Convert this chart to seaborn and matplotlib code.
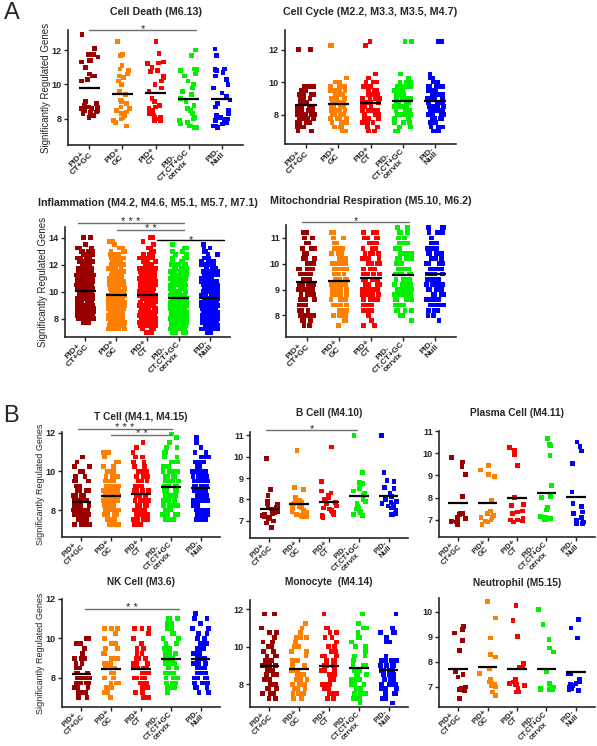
import numpy as np
import pandas as pd
import matplotlib
matplotlib.use("Agg")
import matplotlib.pyplot as plt
import seaborn as sns

# groups, labels, colours
groups = ["PID+ CT+GC", "PID+ GC", "PID+ CT", "PID- CT,CT+GC cervix", "PID- Null"]
tick_labels = ["PID+\nCT+GC", "PID+\nGC", "PID+\nCT", "PID-\nCT,CT+GC\ncervix", "PID-\nNull"]
colors = ["#9a0000", "#ff7f00", "#ff0000", "#00f000", "#0000ff"]

# ---- Panel A: Cell Death (single values)
cd_vals = [
    [12.9, 12.1, 11.75, 11.75, 11.6, 11.4, 11.4, 11.3, 11.0, 10.6, 10.5, 10.5, 10.3, 10.2, 9.0,
     8.9, 8.8, 8.7, 8.7, 8.6, 8.6, 8.5, 8.5, 8.4, 8.4, 8.3, 8.3, 8.2, 8.2, 8.1],
    [12.5, 11.75, 11.7, 11.1, 10.9, 10.8, 10.6, 10.5, 10.4, 10.2, 10.0, 9.6, 9.4, 9.1, 9.0,
     8.9, 8.7, 8.6, 8.5, 8.4, 8.3, 8.3, 8.2, 8.1, 8.0, 7.9, 7.8, 7.6],
    [12.5, 11.8, 11.3, 11.25, 11.2, 11.0, 10.8, 10.75, 10.5, 10.4, 10.2, 10.0, 9.8, 9.6, 9.2,
     9.0, 8.8, 8.7, 8.6, 8.5, 8.4, 8.3, 8.3, 8.2, 8.1, 8.1, 8.0, 8.0, 7.9, 7.9],
    [12.0, 11.7, 10.9, 10.85, 10.8, 10.6, 10.5, 10.2, 10.0, 9.8, 9.6, 9.4, 9.2, 9.0, 8.8,
     8.6, 8.5, 8.3, 8.1, 8.0, 7.9, 7.8, 7.8, 7.7, 7.6, 7.6, 7.5, 7.5],
    [12.05, 11.7, 10.9, 10.85, 10.8, 10.7, 10.5, 10.3, 10.0, 9.8, 9.5, 9.3, 9.1, 8.9, 8.7,
     8.5, 8.3, 8.2, 8.1, 8.0, 8.0, 7.9, 7.8, 7.8, 7.7, 7.6, 7.6, 7.5],
]

# ---- Panel A: Cell Cycle (points per value row)
cc_levels = [7.0, 7.25, 7.5, 7.75, 8.0, 8.25, 8.5, 8.75, 9.0, 9.25, 9.5, 9.75, 10.0, 10.25,
             10.5, 10.75, 11.0, 11.25, 11.5, 11.75, 12.0, 12.25, 12.5]
cc_counts = [
    [2, 3, 4, 5, 6, 6, 6, 6, 5, 5, 4, 4, 0, 0, 0, 0, 0, 0, 0, 0, 2, 0, 0],
    [2, 3, 4, 5, 5, 6, 6, 6, 6, 5, 4, 4, 2, 1, 0, 0, 0, 0, 0, 0, 0, 2, 0],
    [3, 3, 4, 4, 5, 5, 6, 6, 6, 5, 5, 4, 3, 1, 1, 0, 0, 0, 0, 0, 0, 1, 1],
    [2, 2, 3, 4, 5, 5, 6, 6, 6, 6, 6, 6, 3, 1, 1, 0, 0, 0, 0, 0, 0, 0, 2],
    [3, 3, 3, 4, 5, 5, 6, 6, 6, 6, 6, 5, 3, 2, 1, 0, 0, 0, 0, 0, 0, 0, 2],
]

# ---- Panel A: Inflammation
inf_levels = [7.0, 7.25, 7.5, 7.75, 8.0, 8.25, 8.5, 8.75, 9.0, 9.25, 9.5, 9.75, 10.0, 10.25,
              10.5, 10.75, 11.0, 11.25, 11.5, 11.75, 12.0, 12.25, 12.5, 12.75, 13.0, 13.25,
              13.5, 13.75, 14.0]
inf_counts = [
    [0, 0, 0, 6, 14, 16, 16, 16, 14, 14, 14, 14, 14, 14, 13, 12, 12, 11, 9, 8, 7, 6, 5, 5, 4, 3, 2, 0, 2],
    [0, 8, 12, 14, 14, 14, 14, 14, 14, 13, 13, 13, 13, 12, 12, 11, 11, 10, 9, 8, 7, 6, 5, 4, 3, 2, 1, 2, 0],
    [2, 7, 12, 14, 14, 14, 14, 14, 14, 13, 13, 13, 13, 12, 12, 11, 11, 10, 9, 8, 7, 6, 5, 4, 3, 2, 1, 1, 2],
    [6, 12, 14, 14, 14, 14, 14, 14, 14, 13, 13, 13, 12, 12, 11, 10, 10, 9, 8, 7, 6, 5, 4, 3, 2, 2, 1, 0, 0],
    [4, 13, 14, 14, 14, 14, 14, 14, 14, 13, 13, 13, 12, 12, 11, 10, 10, 9, 8, 7, 6, 5, 4, 3, 2, 2, 1, 0, 0],
]

# ---- Panel A: Mitochondrial Respiration
mito_levels = [7.4, 7.6, 7.8, 8.0, 8.2, 8.4, 8.6, 8.8, 9.0, 9.2, 9.4, 9.6, 9.8, 10.0, 10.2,
               10.4, 10.6, 10.8, 11.0, 11.2, 11.4]
mito_counts = [
    [0, 2, 3, 4, 5, 6, 6, 7, 7, 7, 7, 6, 6, 5, 5, 4, 3, 2, 2, 2, 0],
    [0, 1, 2, 4, 5, 6, 6, 7, 7, 7, 7, 6, 6, 6, 5, 4, 4, 3, 2, 2, 0],
    [0, 2, 2, 2, 4, 6, 6, 7, 7, 7, 7, 7, 6, 6, 5, 5, 5, 4, 4, 3, 0],
    [0, 0, 1, 3, 4, 5, 6, 6, 6, 7, 7, 7, 7, 6, 6, 6, 5, 4, 3, 3, 2],
    [0, 0, 1, 2, 4, 5, 6, 6, 6, 7, 7, 7, 7, 6, 6, 6, 5, 4, 2, 3, 3],
]

# ---- Panel B: T Cell
tc_levels = [7.0, 7.25, 7.5, 7.75, 8.0, 8.25, 8.5, 8.75, 9.0, 9.25, 9.5, 9.75, 10.0, 10.25,
             10.5, 10.75, 11.0, 11.25, 11.5, 11.75, 12.0]
tc_counts = [
    [0, 6, 8, 9, 9, 8, 7, 6, 5, 3, 3, 2, 2, 2, 1, 1, 0, 0, 0, 0, 0],
    [0, 4, 6, 7, 7, 7, 7, 6, 6, 5, 5, 4, 3, 3, 2, 1, 2, 0, 0, 0, 0],
    [0, 4, 6, 7, 7, 7, 6, 6, 6, 5, 5, 4, 4, 3, 2, 2, 1, 1, 1, 0, 0],
    [0, 0, 4, 6, 7, 6, 6, 6, 6, 6, 6, 5, 5, 4, 3, 2, 2, 2, 1, 1, 1],
    [0, 0, 3, 6, 7, 6, 6, 6, 6, 6, 6, 5, 5, 4, 3, 3, 2, 1, 1, 1, 0],
]

# ---- Panel B: B Cell
bc_vals = [
    [9.9, 8.45, 8.2, 7.9, 7.8, 7.75, 7.7, 7.65, 7.6, 7.55, 7.5, 7.45, 7.4, 7.35, 7.3, 7.3,
     7.25, 7.2, 7.15, 7.1, 7.0, 6.9, 6.7],
    [10.3, 8.55, 8.45, 8.1, 7.95, 7.9, 7.85, 7.8, 7.75, 7.7, 7.65, 7.6, 7.55, 7.5, 7.45, 7.4,
     7.35, 7.3, 7.3, 7.25, 7.2, 7.2],
    [10.45, 8.85, 8.4, 8.3, 8.2, 8.1, 8.0, 7.9, 7.85, 7.8, 7.7, 7.6, 7.55, 7.5, 7.45, 7.4,
     7.35, 7.3, 7.25, 7.2, 7.15],
    [11.0, 9.25, 8.8, 8.75, 8.7, 8.5, 8.4, 8.3, 8.2, 8.0, 7.9, 7.8, 7.7, 7.6, 7.55, 7.5,
     7.45, 7.4, 7.3, 7.25],
    [11.0, 9.25, 8.9, 8.85, 8.55, 8.5, 8.3, 8.15, 8.0, 7.9, 7.85, 7.8, 7.75, 7.7, 7.65, 7.6,
     7.5, 7.35, 7.3, 7.3],
]

# ---- Panel B: Plasma Cell
pc_vals = [
    [9.8, 9.6, 9.4, 9.05, 8.05, 7.3, 7.3, 7.25, 7.1, 7.05, 7.0, 6.95, 6.9, 6.9, 6.8],
    [9.45, 9.25, 9.05, 8.95, 7.9, 7.4, 7.3, 7.2, 7.1, 7.1, 7.0, 6.95, 6.9, 6.8],
    [10.25, 10.15, 9.95, 9.45, 8.0, 7.7, 7.65, 7.4, 7.35, 7.3, 7.05, 7.0, 7.0, 6.95, 6.9],
    [10.65, 10.4, 10.35, 9.9, 8.55, 8.05, 8.0, 7.55, 7.45, 7.15, 7.1, 7.05, 7.0, 7.0, 7.05],
    [10.5, 10.3, 10.1, 9.55, 8.25, 7.75, 7.6, 7.35, 7.3, 7.1, 7.0, 6.9, 6.85, 6.85, 6.85],
]

# ---- Panel B: NK Cell
nk_levels = [6.75, 7.0, 7.25, 7.5, 7.75, 8.0, 8.25, 8.5, 8.75, 9.0, 9.25, 9.5, 9.75, 10.0,
             10.25, 10.5, 10.75, 11.0, 11.25]
nk_counts = [
    [0, 3, 4, 5, 5, 5, 4, 4, 2, 3, 1, 1, 2, 2, 0, 0, 0, 0, 0],
    [0, 1, 4, 5, 5, 5, 4, 4, 3, 3, 2, 2, 2, 1, 1, 3, 0, 0, 0],
    [0, 2, 3, 5, 5, 5, 5, 5, 4, 4, 3, 2, 1, 1, 1, 3, 0, 0, 0],
    [0, 0, 2, 3, 4, 4, 4, 4, 4, 4, 3, 3, 2, 2, 2, 2, 2, 3, 0],
    [0, 0, 2, 3, 4, 4, 4, 4, 4, 3, 3, 3, 3, 2, 2, 2, 1, 2, 1],
]

# ---- Panel B: Monocyte
mono_levels = [7.0, 7.25, 7.5, 7.75, 8.0, 8.25, 8.5, 8.75, 9.0, 9.25, 9.5, 9.75, 10.0, 10.25,
               10.5, 10.75, 11.0, 11.25, 11.5, 11.75, 12.0]
mono_counts = [
    [0, 2, 3, 3, 4, 4, 4, 4, 4, 3, 3, 2, 2, 2, 1, 2, 1, 0, 0, 2, 0],
    [0, 3, 4, 5, 4, 4, 4, 4, 3, 3, 1, 2, 2, 1, 3, 1, 1, 2, 0, 0, 0],
    [0, 2, 3, 3, 4, 4, 4, 4, 4, 3, 3, 2, 2, 1, 2, 2, 2, 0, 0, 1, 0],
    [1, 3, 4, 3, 4, 4, 4, 4, 4, 2, 2, 2, 2, 1, 2, 1, 2, 1, 0, 1, 0],
    [1, 3, 3, 4, 4, 5, 5, 5, 4, 4, 1, 0, 0, 2, 2, 3, 1, 0, 0, 1, 0],
]

# ---- Panel B: Neutrophil
neu_vals = [
    [9.4, 9.3, 9.15, 8.85, 8.45, 7.6, 7.5, 7.4, 7.0, 6.95, 6.95, 6.9, 6.9, 6.85, 6.55],
    [10.4, 9.75, 8.95, 8.3, 8.2, 7.75, 7.55, 7.3, 7.2, 7.15, 7.1, 7.05, 7.0, 6.8, 6.65],
    [10.25, 9.65, 9.0, 7.95, 7.8, 7.8, 7.3, 7.2, 7.15, 7.1, 7.1, 7.05, 6.95, 6.8, 6.8],
    [10.1, 9.5, 8.9, 8.55, 8.4, 7.6, 7.15, 7.0, 6.95, 6.9, 6.9, 6.9, 6.9, 6.95, 7.0],
    [9.7, 9.35, 8.95, 7.55, 7.55, 7.3, 7.2, 7.15, 7.1, 7.05, 7.0, 6.95, 6.9, 6.85],
]

W, H = 597, 746
sns.set_style("ticks")
plt.rcParams["font.family"] = ["Liberation Sans", "DejaVu Sans"]
np.random.seed(7)

fig = plt.figure(figsize=(W / 100, H / 100), dpi=100)


def add_ax(l, t, r, b):
    return fig.add_axes([l / W, 1 - b / H, (r - l) / W, (b - t) / H])


def expand(levels, counts):
    return [np.repeat(levels, c) for c in counts]


def panel(box, vals, title, ylim, yticks, title_y, tsize=7.7, xsize=6):
    ax = add_ax(*box)
    df = pd.DataFrame({
        "group": np.repeat(groups, [len(v) for v in vals]),
        "value": np.concatenate([np.asarray(v, float) for v in vals]),
    })
    sns.stripplot(data=df, x="group", y="value", hue="group", order=groups,
                  hue_order=groups, palette=colors, marker="s", size=3.4,
                  jitter=0.27, linewidth=0, legend=False, ax=ax)
    for i, v in enumerate(vals):
        ax.hlines(np.mean(v), i - 0.33, i + 0.33, color="black", lw=1.6, zorder=5)
    ax.set_xlim(-0.65, 4.65)
    ax.set_ylim(*ylim)
    ax.set_yticks(yticks)
    ax.set_yticklabels([str(t) for t in yticks], fontsize=6.5, fontweight="bold")
    ax.set_xticks(range(5))
    ax.set_xticklabels(tick_labels, rotation=45, ha="right", va="center",
                       rotation_mode="anchor", fontsize=xsize, fontweight="bold",
                       multialignment="center", linespacing=0.95)
    ax.set_xlabel("")
    ax.set_ylabel("")
    sns.despine(ax=ax)
    for s in ["left", "bottom"]:
        ax.spines[s].set_linewidth(1.2)
    ax.tick_params(length=3, width=1, pad=1.5)
    l, t, r, b = box
    fig.text((l + r) / 2 / W, 1 - title_y / H, title, ha="center", va="center",
             fontsize=tsize, fontweight="bold")
    return ax


def ylab(ax, box, right_px, size=7):
    l, t, r, b = box
    ax.set_ylabel("Significantly Regulated Genes", fontsize=size)
    ax.yaxis.set_label_coords((right_px - l) / (r - l), 0.5)


def bracket(ax, x0, x1, y, stars, color="#707070"):
    ax.plot([x0, x1], [y, y], color=color, lw=1, clip_on=False, zorder=6)
    ax.annotate(stars, xy=((x0 + x1) / 2, y), xytext=(0, -1.5), textcoords="offset points",
                ha="center", va="baseline", fontsize=8, annotation_clip=False)


# Panel A
b = (68, 30, 243, 145)
ax = panel(b, cd_vals, "Cell Death (M6.13)", (6.49, 13.16), [8, 10, 12], 12)
ylab(ax, b, 51)
bracket(ax, 0.0, 3.23, 13.15, "*")

b = (285, 30, 456, 144)
ax = panel(b, expand(cc_levels, cc_counts), "Cell Cycle (M2.2, M3.3, M3.5, M4.7)",
           (6.2, 13.2), [8, 10, 12], 12)

b = (65, 227, 230, 337)
ax = panel(b, expand(inf_levels, inf_counts), "Inflammation (M4.2, M4.6, M5.1, M5.7, M7.1)",
           (6.65, 14.8), [8, 10, 12, 14], 203)
ylab(ax, b, 48)
bracket(ax, -0.23, 3.16, 15.1, "* * *")
bracket(ax, 1.03, 3.16, 14.57, "* *")
bracket(ax, 2.32, 4.45, 13.8, "*", color="black")

b = (286, 225, 456, 337)
ax = panel(b, expand(mito_levels, mito_counts), "Mitochondrial Respiration (M5.10, M6.2)",
           (7.16, 11.5), [8, 9, 10, 11], 201)
bracket(ax, -0.16, 3.2, 11.61, "*")

# Panel B
b = (62, 432, 220, 537)
ax = panel(b, expand(tc_levels, tc_counts), "T Cell (M4.1, M4.15)", (6.6, 12.05),
           [8, 10, 12], 417, tsize=7.3, xsize=5.5)
ylab(ax, b, 45, size=6.5)
bracket(ax, -0.13, 3.04, 12.2, "* * *")
bracket(ax, 1.0, 3.04, 11.9, "* *")

b = (250, 432, 408, 538)
ax = panel(b, bc_vals, "B Cell (M4.10)", (6.2, 11.15), [7, 8, 9, 10, 11], 413,
           tsize=7.3, xsize=5.5)
bracket(ax, -0.1, 2.95, 11.24, "*")

b = (439, 431, 595, 537)
ax = panel(b, pc_vals, "Plasma Cell (M4.11)", (6.23, 11.0), [7, 8, 9, 10, 11], 413,
           tsize=7.3, xsize=5.5)

b = (62, 599, 220, 707)
ax = panel(b, expand(nk_levels, nk_counts), "NK Cell (M3.6)", (6.53, 12.0), [8, 10, 12],
           582, tsize=7.3, xsize=5.5)
ylab(ax, b, 45, size=6.5)
bracket(ax, 0.13, 3.28, 11.5, "* *")

b = (250, 600, 408, 707)
ax = panel(b, expand(mono_levels, mono_counts), "Monocyte  (M4.14)", (6.78, 12.5),
           [8, 10, 12], 582, tsize=7.3, xsize=5.5)

b = (439, 598, 595, 707)
ax = panel(b, neu_vals, "Neutrophil (M5.15)", (6.2, 10.55), [7, 8, 9, 10], 583,
           tsize=7.3, xsize=5.5)

fig.text(4 / W, 1 - 13 / H, "A", fontsize=17, va="center", ha="left")
fig.text(3 / W, 1 - 416 / H, "B", fontsize=17, va="center", ha="left")

fig.savefig("out.png", dpi=100)
